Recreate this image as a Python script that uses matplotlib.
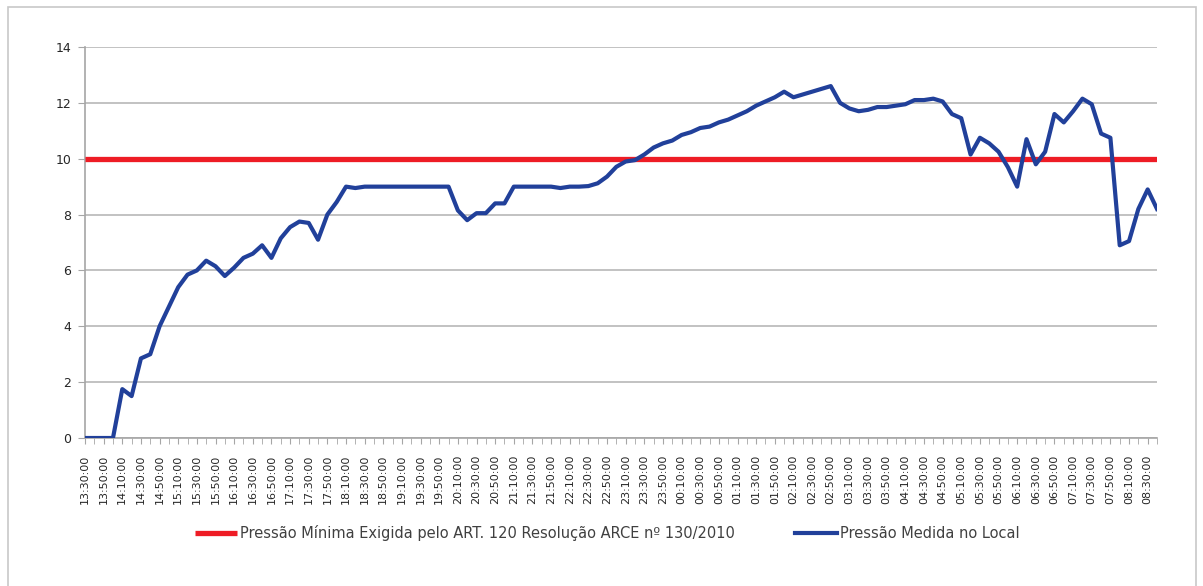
import matplotlib
matplotlib.use("Agg")
import matplotlib.pyplot as plt
from matplotlib.patches import Rectangle
import numpy as np
import pandas as pd

# leituras a cada 10 minutos, de 13:30:00 ate 08:40:00
horarios = pd.date_range("2010-01-01 13:30", periods=116, freq="10min").strftime("%H:%M:%S").tolist()

pressao_medida = [
    0.0, 0.0, 0.0, 0.0, 1.75, 1.5, 2.85, 3.0, 4.0, 4.7,
    5.4, 5.85, 6.0, 6.35, 6.15, 5.8, 6.1, 6.45, 6.6, 6.9,
    6.45, 7.15, 7.55, 7.75, 7.7, 7.1, 8.0, 8.45, 9.0, 8.95,
    9.0, 9.0, 9.0, 9.0, 9.0, 9.0, 9.0, 9.0, 9.0, 9.0,
    8.15, 7.8, 8.05, 8.05, 8.4, 8.4, 9.0, 9.0, 9.0, 9.0,
    9.0, 8.95, 9.0, 9.0, 9.02, 9.12, 9.36, 9.71, 9.9, 9.95,
    10.15, 10.4, 10.55, 10.65, 10.85, 10.95, 11.1, 11.15, 11.3, 11.4,
    11.55, 11.7, 11.9, 12.05, 12.2, 12.4, 12.2, 12.3, 12.4, 12.5,
    12.6, 12.0, 11.8, 11.7, 11.75, 11.85, 11.85, 11.9, 11.95, 12.1,
    12.1, 12.15, 12.05, 11.6, 11.45, 10.15, 10.75, 10.55, 10.25, 9.7,
    9.0, 10.7, 9.8, 10.25, 11.6, 11.3, 11.7, 12.15, 11.95, 10.9,
    10.75, 6.9, 7.05, 8.2, 8.9, 8.2,
]
pressao_minima = 10.0

rotulo_minima = "Pressão Mínima Exigida pelo ART. 120 Resolução ARCE nº 130/2010"
rotulo_medida = "Pressão Medida no Local"

W, H = 1203, 586
fig = plt.figure(figsize=(W / 100, H / 100), dpi=100)
fig.patches.append(Rectangle((8 / W, -0.05), (1196 - 8) / W, 1.05 - 7 / H,
                             transform=fig.transFigure, fill=False,
                             edgecolor="#c8c8c8", linewidth=1.2))

ax = fig.add_axes([85 / W, 1 - 438 / H, (1157 - 85) / W, (438 - 47) / H])

x = np.arange(len(pressao_medida))
ax.plot(x, np.full(len(x), pressao_minima), color="#ee1c25", linewidth=3.8,
        label=rotulo_minima, solid_capstyle="butt", zorder=3)
ax.plot(x, pressao_medida, color="#21409a", linewidth=3.0,
        label=rotulo_medida, solid_joinstyle="round", zorder=4)

ax.set_xlim(0, len(x) - 1)
ax.set_ylim(0, 14)
ax.set_yticks(np.arange(0, 15, 2))
ax.yaxis.grid(True, color="#bdbdbd", linewidth=1.3)
ax.set_axisbelow(True)

ax.set_xticks(x, minor=True)
ax.set_xticks(x[::2])
ax.set_xticklabels(horarios[::2], rotation=90, fontsize=8, color="#262626")
ax.tick_params(axis="x", which="both", length=4, color="#a6a6a6", pad=8)
ax.tick_params(axis="y", length=5, color="#a6a6a6", labelsize=9, labelcolor="#262626", pad=5)

for side in ("top", "right"):
    ax.spines[side].set_visible(False)
for side in ("left", "bottom"):
    ax.spines[side].set_color("#a6a6a6")
    ax.spines[side].set_linewidth(1.2)

ax.legend(loc="upper center", bbox_to_anchor=(0.487, -0.19), ncol=2, frameon=False,
          fontsize=10.5, handlelength=2.9, handletextpad=0.2, columnspacing=4.1,
          labelcolor="#404040")

fig.savefig("out.png", dpi=100)
